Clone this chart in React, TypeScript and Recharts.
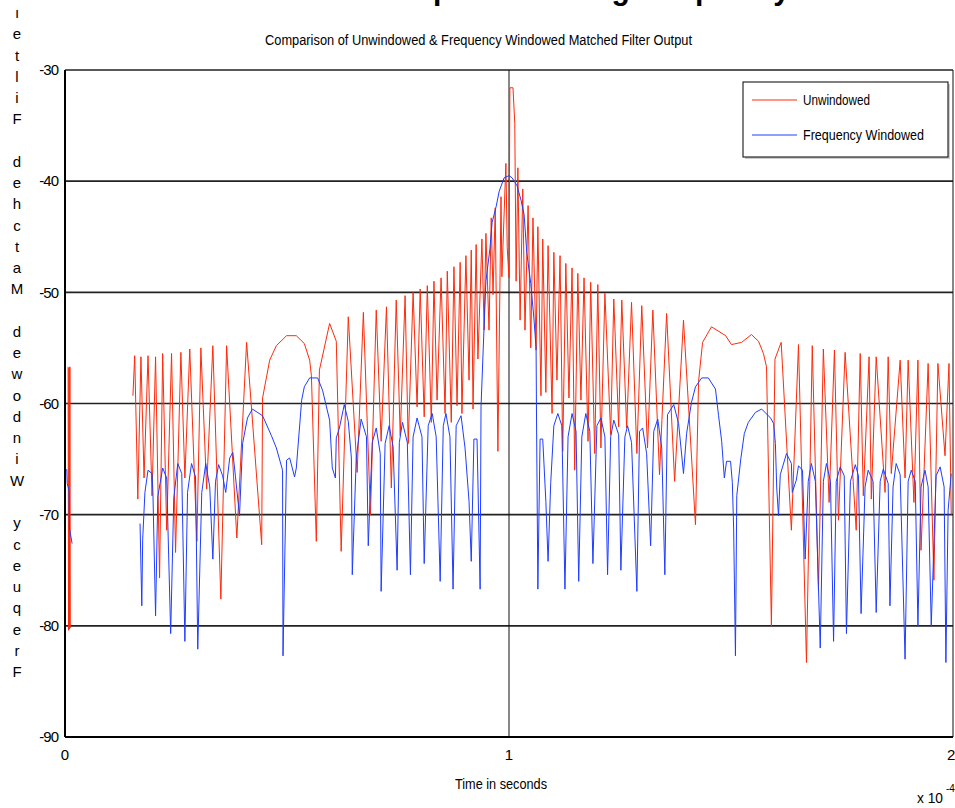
import React from "react";
import { LineChart, Line, XAxis, YAxis, CartesianGrid } from "recharts";

const FONT = '"Liberation Sans", Arial, sans-serif';

const X_TICKS = [0, 1, 2];
const Y_TICKS = [-90, -80, -70, -60, -50, -40, -30];

// stacked y-label characters, top to bottom (as printed)
const Y_LABEL_CHARS = [
  "ı", "e", "t", "l", "i", "F", "",
  "d", "e", "h", "c", "t", "a", "M", "",
  "d", "e", "w", "o", "d", "n", "i", "W", "",
  "y", "c", "e", "u", "q", "e", "r", "F",
];

// [time (x1e-4 s), dB]; null = gap
const unwindowed: [number, number | null][] = [
  [0.007, -56.7], [0.008, -80.4], [0.009, -56.8], [0.010, -80.3], [0.011, -56.7], [0.012, -80.2], [0.013, null],
  [0.153, -59.3], [0.157, -55.7], [0.164, -68.6], [0.171, -55.8], [0.178, -66.7], [0.187, -55.7],
  [0.196, -68.3], [0.204, -55.8], [0.213, -75.7], [0.220, -55.5], [0.229, -71.4], [0.240, -55.5],
  [0.249, -73.4], [0.261, -55.4], [0.270, -66.7], [0.281, -55.1], [0.297, -72.4], [0.306, -55.0],
  [0.319, -67.7], [0.333, -54.8], [0.351, -77.6], [0.364, -54.8], [0.387, -72.1], [0.409, -54.5],
  [0.443, -72.7], [0.445, -59.5], [0.461, -56.1], [0.476, -54.8], [0.499, -53.9], [0.521, -53.9],
  [0.539, -54.6], [0.551, -56.1], [0.555, -57.5], [0.566, -72.4], [0.573, -57.0], [0.596, -52.8],
  [0.611, -54.4], [0.622, -73.3], [0.638, -52.2], [0.658, -66.2], [0.672, -51.8], [0.688, -70.0],
  [0.701, -51.6], [0.712, -63.4], [0.724, -51.3], [0.735, -67.6], [0.746, -50.7], [0.755, -62.9],
  [0.766, -50.3], [0.773, -63.6], [0.784, -50.0], [0.793, -60.3], [0.800, -49.7], [0.809, -61.2],
  [0.816, -49.4], [0.825, -61.7], [0.831, -49.0], [0.838, -59.7], [0.847, -48.7], [0.856, -60.9],
  [0.861, -48.1], [0.870, -61.7], [0.876, -47.7], [0.883, -60.2], [0.890, -47.3], [0.894, -60.9],
  [0.903, -46.7], [0.910, -57.9], [0.915, -46.2], [0.919, -60.5], [0.926, -45.7], [0.930, -56.0],
  [0.939, -45.2], [0.944, -53.4], [0.948, -44.7], [0.955, -53.4], [0.960, -43.3], [0.964, -50.2],
  [0.969, -42.4], [0.975, -64.3], [0.982, -41.4], [0.984, -48.6], [0.993, -38.4], [0.996, -46.0],
  [1.000, -48.7], [1.002, -31.6], [1.009, -31.6], [1.013, -34.8], [1.016, -49.0], [1.020, -38.8],
  [1.025, -52.5], [1.031, -40.7], [1.036, -53.4], [1.043, -42.2], [1.049, -55.0], [1.054, -43.3],
  [1.061, -55.2], [1.065, -44.1], [1.072, -59.3], [1.076, -45.2], [1.083, -59.0], [1.088, -45.8],
  [1.097, -60.9], [1.101, -46.4], [1.108, -57.9], [1.115, -46.7], [1.121, -64.3], [1.128, -47.4],
  [1.135, -59.5], [1.142, -47.8], [1.148, -66.0], [1.155, -48.3], [1.162, -59.7], [1.169, -48.7],
  [1.178, -63.4], [1.184, -49.1], [1.193, -64.5], [1.200, -49.3], [1.207, -64.0], [1.216, -50.1],
  [1.229, -62.8], [1.236, -50.6], [1.247, -62.1], [1.254, -50.7], [1.265, -62.2], [1.276, -50.9],
  [1.288, -64.5], [1.299, -51.2], [1.312, -64.0], [1.324, -51.6], [1.339, -66.4], [1.355, -51.9],
  [1.373, -67.0], [1.393, -52.5], [1.420, -70.9], [1.427, -58.0], [1.436, -54.5], [1.456, -53.1],
  [1.488, -53.9], [1.501, -54.7], [1.524, -54.5], [1.546, -53.8], [1.562, -54.4], [1.573, -55.5],
  [1.580, -56.7], [1.591, -80.0], [1.599, -56.0], [1.613, -54.5], [1.636, -71.4], [1.652, -54.7],
  [1.670, -83.3], [1.683, -54.8], [1.697, -76.8], [1.708, -55.1], [1.721, -68.9], [1.733, -55.2],
  [1.742, -70.5], [1.757, -55.4], [1.782, -71.4], [1.791, -55.5], [1.798, -68.3], [1.811, -55.8],
  [1.816, -68.6], [1.827, -55.8], [1.847, -68.0], [1.854, -55.8], [1.861, -66.3], [1.881, -56.1],
  [1.892, -66.7], [1.899, -56.1], [1.912, -68.9], [1.921, -56.1], [1.928, -73.2], [1.944, -56.4],
  [1.957, -75.9], [1.966, -56.4], [1.982, -64.7], [1.991, -56.4], [1.996, -70.0],
];

const freqWindowed: [number, number | null][] = [
  [0.004, -65.9], [0.005, -67.2], [0.009, -67.8], [0.010, -71.2], [0.016, -72.6], [0.017, null],
  [0.169, -70.8], [0.173, -78.2], [0.175, -72.2], [0.180, -68.0], [0.187, -66.0], [0.196, -66.3],
  [0.198, -68.0], [0.204, -79.1], [0.209, -68.4], [0.220, -65.8], [0.229, -66.7], [0.238, -80.7],
  [0.245, -68.5], [0.254, -65.4], [0.263, -66.3], [0.270, -81.4], [0.276, -68.0], [0.285, -65.4],
  [0.294, -66.6], [0.299, -82.1], [0.308, -68.0], [0.317, -65.4], [0.326, -67.5], [0.333, -74.0],
  [0.339, -67.0], [0.346, -65.5], [0.355, -66.5], [0.362, -68.0], [0.371, -64.9], [0.378, -64.4],
  [0.384, -66.6], [0.393, -70.1], [0.400, -63.6], [0.411, -61.3], [0.422, -60.5], [0.445, -61.1],
  [0.465, -62.9], [0.476, -64.0], [0.490, -66.0], [0.491, -82.7], [0.499, -65.1], [0.506, -64.9],
  [0.517, -66.6], [0.521, -65.8], [0.533, -59.7], [0.539, -58.5], [0.551, -57.7], [0.569, -57.7],
  [0.580, -58.8], [0.596, -61.5], [0.602, -65.8], [0.609, -66.7], [0.611, -63.1], [0.618, -62.2],
  [0.629, -60.1], [0.638, -61.6], [0.645, -64.9], [0.647, -75.4], [0.656, -64.9], [0.667, -61.4],
  [0.679, -63.0], [0.683, -72.8], [0.692, -63.5], [0.701, -62.2], [0.710, -64.5], [0.712, -76.9],
  [0.721, -63.6], [0.730, -62.0], [0.739, -63.9], [0.748, -75.0], [0.753, -63.5], [0.760, -61.7],
  [0.771, -63.5], [0.778, -75.4], [0.784, -63.0], [0.793, -61.3], [0.804, -63.0], [0.809, -74.4],
  [0.818, -62.0], [0.827, -60.9], [0.836, -63.0], [0.845, -76.0], [0.852, -62.0], [0.858, -60.9],
  [0.867, -63.0], [0.874, -76.7], [0.881, -62.0], [0.892, -61.1], [0.901, -64.0], [0.910, -68.8],
  [0.915, -74.2], [0.921, -63.2], [0.928, -63.2], [0.935, -76.7], [0.937, -60.3], [0.942, -55.0],
  [0.948, -49.0], [0.957, -46.1], [0.962, -43.7], [0.971, -42.3], [0.978, -40.9], [0.989, -39.7],
  [1.000, -39.5], [1.007, -39.7], [1.018, -40.4], [1.027, -41.7], [1.034, -43.0], [1.040, -46.4],
  [1.049, -49.2], [1.056, -52.3], [1.061, -55.0], [1.062, -61.3], [1.065, -76.7], [1.070, -63.2],
  [1.076, -63.2], [1.083, -68.8], [1.088, -74.2], [1.094, -67.1], [1.101, -62.0], [1.110, -60.9],
  [1.119, -62.0], [1.126, -76.7], [1.133, -63.0], [1.142, -60.9], [1.151, -62.5], [1.157, -76.0],
  [1.164, -63.0], [1.173, -60.9], [1.182, -62.5], [1.189, -74.4], [1.198, -62.0], [1.207, -61.3],
  [1.216, -63.0], [1.222, -75.4], [1.229, -63.0], [1.236, -61.5], [1.247, -62.8], [1.252, -75.0],
  [1.261, -63.0], [1.267, -62.0], [1.276, -63.5], [1.288, -76.9], [1.294, -62.5], [1.301, -62.2],
  [1.310, -64.5], [1.319, -72.8], [1.326, -62.5], [1.335, -61.4], [1.344, -64.0], [1.351, -75.4],
  [1.357, -61.0], [1.371, -60.1], [1.382, -61.8], [1.393, -66.3], [1.400, -62.7], [1.411, -59.9],
  [1.420, -58.5], [1.434, -57.7], [1.449, -57.7], [1.465, -58.7], [1.472, -61.1], [1.479, -63.4],
  [1.485, -66.7], [1.490, -65.2], [1.499, -65.2], [1.503, -67.1], [1.506, -71.3], [1.510, -82.7],
  [1.513, -68.3], [1.522, -65.0], [1.530, -62.7], [1.539, -61.7], [1.555, -60.8], [1.569, -60.5],
  [1.589, -61.3], [1.596, -61.8], [1.600, -63.6], [1.603, -67.6], [1.607, -70.1], [1.611, -66.4],
  [1.625, -64.5], [1.636, -65.4], [1.638, -68.0], [1.647, -66.9], [1.652, -65.6], [1.661, -66.0],
  [1.667, -74.0], [1.674, -67.0], [1.681, -65.4], [1.690, -67.0], [1.701, -82.0], [1.708, -67.0],
  [1.715, -65.4], [1.724, -67.0], [1.731, -81.4], [1.737, -67.0], [1.746, -65.7], [1.755, -66.5],
  [1.760, -80.7], [1.769, -67.0], [1.780, -65.5], [1.787, -66.5], [1.793, -78.9], [1.802, -67.5],
  [1.809, -66.0], [1.820, -67.0], [1.827, -78.8], [1.836, -67.0], [1.843, -65.9], [1.854, -67.2],
  [1.858, -78.2], [1.865, -67.5], [1.872, -65.4], [1.881, -66.4], [1.892, -83.0], [1.899, -67.0],
  [1.906, -66.0], [1.915, -67.0], [1.921, -80.0], [1.928, -67.5], [1.937, -66.0], [1.944, -67.5],
  [1.951, -80.0], [1.962, -66.5], [1.971, -65.7], [1.980, -67.5], [1.984, -83.3], [1.989, -69.6],
  [1.996, -66.3],
];

const RED = "#ff2a0a";
const BLUE = "#1f3dff";

const toRows = (pts: [number, number | null][]) => pts.map(([t, v]) => ({ t, v }));

// narrow text: the reference uses a condensed face, squeeze Liberation Sans to the measured width
function NarrowText({ x, y, w, size = 14, anchor = "start", children }: any) {
  return (
    <text
      x={x}
      y={y}
      fontFamily={FONT}
      fontSize={size}
      textAnchor={anchor}
      textLength={w}
      lengthAdjust="spacingAndGlyphs"
    >
      {children}
    </text>
  );
}

export default function App() {
  const unwRows = toRows(unwindowed);
  const winRows = toRows(freqWindowed);

  return (
    <div style={{ position: "absolute", left: 0, top: 0, width: 955, height: 808, background: "#fff", overflow: "hidden" }}>
      <LineChart width={955} height={808} margin={{ top: 70, right: 2, bottom: 0, left: 0 }}>
        <CartesianGrid vertical={false} stroke="#222" strokeWidth={1.6} horizontalValues={Y_TICKS} />
        <CartesianGrid horizontal={false} stroke="#111" strokeWidth={1} verticalValues={X_TICKS} />
        <XAxis
          dataKey="t"
          type="number"
          domain={[0, 2]}
          ticks={X_TICKS}
          allowDuplicatedCategory={false}
          height={71}
          tickSize={0}
          tickMargin={12}
          axisLine={{ stroke: "#000", strokeWidth: 2 }}
          tick={{ fontSize: 15, fill: "#000", fontFamily: FONT }}
        />
        <YAxis
          type="number"
          domain={[-90, -30]}
          ticks={Y_TICKS}
          width={65}
          tickSize={0}
          tickMargin={7}
          axisLine={{ stroke: "#000", strokeWidth: 2 }}
          tick={{ fontSize: 15, fill: "#000", fontFamily: FONT, letterSpacing: -1 }}
        />
        <Line
          data={unwRows}
          dataKey="v"
          stroke={RED}
          strokeWidth={1}
          dot={false}
          isAnimationActive={false}
          connectNulls={false}
        />
        <Line
          data={winRows}
          dataKey="v"
          stroke={BLUE}
          strokeWidth={1}
          dot={false}
          isAnimationActive={false}
          connectNulls={false}
        />
      </LineChart>

      <svg width={955} height={808} style={{ position: "absolute", left: 0, top: 0, pointerEvents: "none" }}>
        {/* big title, clipped by the top edge as in the original figure */}
        <text x={170} y={-1} fontFamily={FONT} fontWeight="bold" fontSize={32} textLength={620} lengthAdjust="spacingAndGlyphs">
          Time Domain Comparison using Frequency
        </text>
        <NarrowText x={265} y={45} w={427}>
          Comparison of Unwindowed &amp; Frequency Windowed Matched Filter Output
        </NarrowText>
        {Y_LABEL_CHARS.map((c, i) => (
          <text key={i} x={17} y={18 + i * 21.26} textAnchor="middle" fontFamily={FONT} fontSize={15}>
            {c}
          </text>
        ))}
        <NarrowText x={455} y={789} w={92}>Time in seconds</NarrowText>
        <NarrowText x={917} y={803} w={26}>x 10</NarrowText>
        <text x={946} y={792} fontFamily={FONT} fontSize={10}>-4</text>

        <rect x={745} y={84} width={205} height={75} fill="#ccc" />
        <rect x={743} y={82} width={205} height={75} fill="#fff" stroke="#000" strokeWidth={1} />
        <line x1={752} y1={100} x2={797} y2={100} stroke={RED} strokeWidth={1} />
        <NarrowText x={803} y={105} w={67}>Unwindowed</NarrowText>
        <line x1={752} y1={135} x2={797} y2={135} stroke={BLUE} strokeWidth={1} />
        <NarrowText x={803} y={140} w={121}>Frequency Windowed</NarrowText>
      </svg>
    </div>
  );
}
